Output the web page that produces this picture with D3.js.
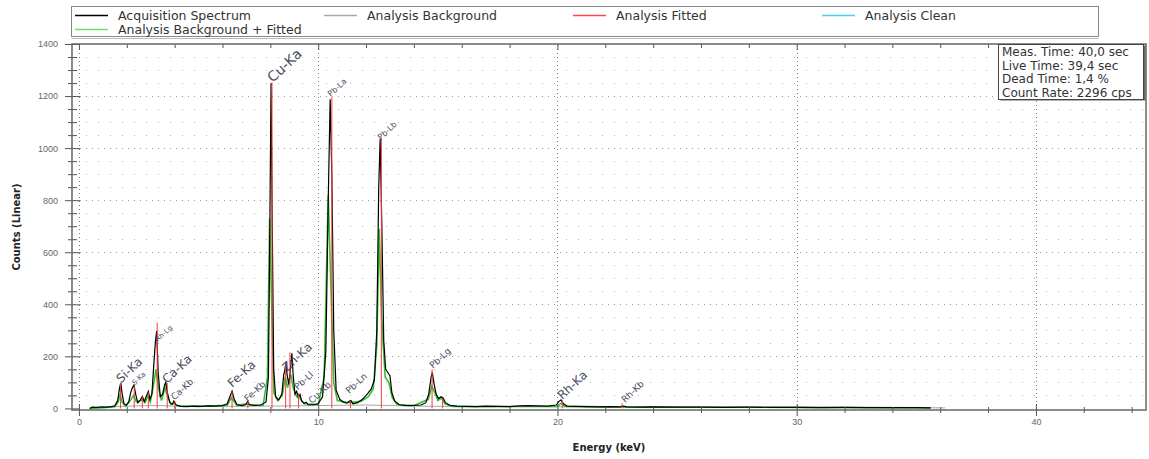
<!DOCTYPE html>
<html>
<head>
<meta charset="utf-8">
<script src="https://cdn.jsdelivr.net/npm/d3@7"></script>
<style>
  body { margin: 0; background: #fff; }
  svg { display: block; }
</style>
</head>
<body>
<svg id="chart"></svg>
<script>
// spectrum values: [energy keV, counts]
const acquisition = [
  [0.45,0],[0.55,5],[0.75,4],[0.95,6],[1.15,5],[1.35,7],[1.5,10],[1.62,30],[1.7,80],[1.75,98],[1.8,60],[1.88,18],[1.98,12],
  [2.08,25],[2.16,60],[2.23,78],[2.3,90],[2.37,55],[2.46,22],[2.56,32],[2.65,46],[2.73,25],[2.82,48],[2.9,65],[2.97,35],
  [3.05,55],[3.13,170],[3.2,260],[3.25,297],[3.31,140],[3.4,45],[3.5,55],[3.58,90],[3.63,100],[3.7,60],[3.8,22],[3.9,16],
  [3.97,28],[4.05,14],[4.25,8],[4.5,7],[4.8,9],[5.1,8],[5.4,10],[5.7,9],[6.0,11],[6.2,18],[6.32,48],[6.4,66],[6.48,38],
  [6.6,15],[6.8,11],[6.97,14],[7.05,27],[7.12,15],[7.35,12],[7.6,13],[7.82,25],[7.92,120],[7.97,600],[8.03,1250],[8.08,700],
  [8.14,150],[8.22,45],[8.35,32],[8.48,55],[8.56,130],[8.6,143],[8.65,178],[8.7,130],[8.77,92],[8.84,150],[8.9,212],[8.96,120],
  [9.03,55],[9.1,66],[9.17,42],[9.24,54],[9.31,28],[9.42,20],[9.5,24],[9.58,14],[9.8,14],[10.0,18],[10.18,45],[10.32,220],
  [10.42,800],[10.5,1188],[10.57,900],[10.65,300],[10.75,70],[10.9,35],[11.05,24],[11.2,20],[11.3,27],[11.37,30],[11.45,18],
  [11.65,22],[11.85,35],[12.05,55],[12.22,75],[12.35,110],[12.45,300],[12.53,850],[12.59,1035],[12.66,700],[12.74,260],
  [12.82,150],[12.9,140],[13.0,125],[13.08,60],[13.2,28],[13.4,14],[13.7,11],[14.0,12],[14.3,13],[14.5,22],[14.62,55],
  [14.72,120],[14.77,138],[14.84,95],[14.93,55],[15.03,38],[15.13,45],[15.22,40],[15.32,22],[15.5,12],[15.8,9],[16.2,8],
  [16.6,7],[17.0,9],[17.5,8],[18.0,7],[18.4,10],[18.8,11],[19.2,10],[19.6,9],[19.95,13],[20.05,26],[20.15,33],[20.25,18],
  [20.4,9],[20.8,8],[21.2,7],[21.7,6],[22.2,7],[22.6,6],[22.75,9],[22.9,6],[23.4,5],[24,6],[25,5],[26,5],[27,4],[28,5],
  [29,4],[30,4],[31,3],[32,4],[33,3],[34,3],[35,3],[35.6,2]
];

const background = [
  [0.45,0],[1,3],[1.6,7],[2.5,10],[3.3,11],[4,9],[5,8],[6,8],[7,8],[8,9],[9,10],[10,11],[11,12],[12,13],[13,11],
  [14,9],[15,8],[17,7],[19,7],[21,6],[25,5],[30,4],[35,3],[36.2,2]
];

const backgroundFitted = [
  [0.45,0],[1.0,3],[1.5,6],[1.64,25],[1.72,55],[1.8,25],[1.95,8],[2.15,30],[2.28,50],[2.4,25],[2.6,30],[2.68,38],[2.78,25],
  [2.88,48],[2.98,25],[3.1,80],[3.22,150],[3.32,80],[3.45,30],[3.6,80],[3.7,45],[3.85,15],[3.98,20],[4.1,10],[5,8],[6.2,12],
  [6.36,40],[6.46,30],[6.6,12],[7.0,18],[7.15,12],[7.7,12],[7.88,120],[7.97,730],[8.05,420],[8.15,60],[8.3,30],[8.5,50],
  [8.62,120],[8.72,80],[8.86,130],[8.95,80],[9.1,45],[9.25,38],[9.4,18],[10.0,15],[10.25,120],[10.42,820],[10.52,500],
  [10.65,100],[10.8,30],[11.3,22],[11.8,28],[12.1,45],[12.3,75],[12.45,240],[12.55,690],[12.65,350],[12.8,120],[12.95,100],
  [13.1,40],[13.3,15],[14.0,10],[14.6,35],[14.75,85],[14.88,60],[15.0,30],[15.15,40],[15.3,18],[15.6,8],[17,7],[20,8],
  [20.15,20],[20.3,8],[23,5],[30,4],[35.6,2]
];

// fitted element lines: [energy keV, counts]
const fittedLines = [
  [1.74,98],[2.31,85],[2.65,46],[2.9,62],[3.27,330],[3.69,98],[4.01,26],[6.40,64],[7.06,26],[8.07,1252],[8.64,175],
  [8.82,215],[9.18,58],[10.57,1195],[11.35,28],[12.64,1040],[14.76,150],[15.2,40],[20.2,30],[22.7,20]
];

// peak labels: [text, energy keV, counts]
const peakLabels = [
  ['Si-Ka',1.76,96],['S-Ka',2.33,88],['Rh-Lg',3.3,255],['Ca-Ka',3.68,94],['Ca-Kb',3.99,30],['Fe-Ka',6.41,78],
  ['Fe-Kb',7.06,25],['Cu-Ka',8.1,1250],['Zn-Ka',8.7,140],['Pb-Ll',9.15,70],['Cu-Kb',9.74,17],['Pb-La',10.53,1196],
  ['Pb-Ln',11.3,55],['Pb-Lb',12.62,1030],['Pb-Lg',14.8,152],['Rh-Ka',20.2,32],['Rh-Kb',22.82,21]
];
const labelSize = {
  'Si-Ka':12,'S-Ka':7,'Rh-Lg':7,'Ca-Ka':12,'Ca-Kb':9,'Fe-Ka':12,'Fe-Kb':9,'Cu-Ka':14,'Zn-Ka':12,'Pb-Ll':9,
  'Cu-Kb':9,'Pb-La':8,'Pb-Ln':9,'Pb-Lb':8,'Pb-Lg':9,'Rh-Ka':12,'Rh-Kb':9
};

const legendNames = ['Acquisition Spectrum','Analysis Background','Analysis Fitted','Analysis Clean','Analysis Background + Fitted'];
const legendColors = ['#000','#a8a8a8','#ff4848','#4fd0f0','#6ee06e'];
const infoLines = ['Meas. Time: 40,0 sec','Live Time: 39,4 sec','Dead Time: 1,4 %','Count Rate: 2296 cps'];
const xTicks = [0,10,20,30,40];
const yTicks = [0,200,400,600,800,1000,1200,1400];

const W = 1149, H = 459;
const svg = d3.select('#chart').attr('width', W).attr('height', H)
  .style('font-family', '"DejaVu Sans", sans-serif');

const x = d3.scaleLinear().domain([-0.29, 44.6]).range([72, 1146]);
const y = d3.scaleLinear().domain([-6.1, 1400]).range([410, 44]);

// grid
const grid = svg.append('g');
const minorY = d3.range(50, 1400, 50).filter(v => v % 200 !== 0);
grid.selectAll('.gm').data(minorY).join('line')
  .attr('x1', 74).attr('x2', 1145)
  .attr('y1', d => Math.round(y(d)) + 0.5).attr('y2', d => Math.round(y(d)) + 0.5)
  .attr('stroke', '#bbb').attr('stroke-dasharray', '1,11');
grid.selectAll('.gM').data(yTicks.filter(v => v > 0 && v < 1400)).join('line')
  .attr('x1', 74).attr('x2', 1145)
  .attr('y1', d => Math.round(y(d)) + 0.5).attr('y2', d => Math.round(y(d)) + 0.5)
  .attr('stroke', '#999').attr('stroke-dasharray', '1,5');
grid.selectAll('.gv').data(xTicks).join('line')
  .attr('y1', 45).attr('y2', 409)
  .attr('x1', d => Math.round(x(d)) + 0.5).attr('x2', d => Math.round(x(d)) + 0.5)
  .attr('stroke', '#777').attr('stroke-dasharray', '1,3');

// series
const line = d3.line().x(d => x(d[0])).y(d => y(d[1]));
const series = svg.append('g').attr('fill', 'none');
series.append('path').datum(background).attr('d', line).attr('stroke', '#a8a8a8').attr('stroke-width', 1);
series.append('path').datum(backgroundFitted).attr('d', line).attr('stroke', '#33c233').attr('stroke-width', 1.6);
series.append('path').datum(acquisition).attr('d', line).attr('stroke', '#000').attr('stroke-width', 1.2);
series.selectAll('.fit').data(fittedLines).join('line')
  .attr('x1', d => x(d[0])).attr('x2', d => x(d[0]))
  .attr('y1', y(0)).attr('y2', d => y(d[1]))
  .attr('stroke', '#ff3a3a').attr('stroke-width', 1);

// axes
const axisStyle = g => {
  g.select('.domain').remove();
  g.selectAll('line').attr('stroke', '#555');
  g.selectAll('text').attr('fill', '#666').style('font-family', '"Liberation Sans", Arial, sans-serif').style('font-size', '9px');
};
const minorX = d3.range(2, 45, 2).filter(v => v % 10 !== 0);

svg.append('g').attr('transform', 'translate(72,0)')
  .call(d3.axisLeft(y).tickValues(yTicks).tickSize(7).tickPadding(7).tickFormat(d3.format('d'))).call(axisStyle);
svg.append('g').attr('transform', 'translate(72,0)')
  .call(d3.axisRight(y).tickValues(yTicks).tickSize(8).tickFormat('')).call(axisStyle);
svg.append('g').attr('transform', 'translate(72,0)')
  .call(d3.axisLeft(y).tickValues(minorY).tickSize(4).tickFormat('')).call(axisStyle);
svg.append('g').attr('transform', 'translate(72,0)')
  .call(d3.axisRight(y).tickValues(minorY).tickSize(5).tickFormat('')).call(axisStyle);

svg.append('g').attr('transform', 'translate(0,410)')
  .call(d3.axisBottom(x).tickValues(xTicks).tickSize(6).tickPadding(3)).call(axisStyle);
svg.append('g').attr('transform', 'translate(0,410)')
  .call(d3.axisTop(x).tickValues(xTicks).tickSize(6).tickFormat('')).call(axisStyle);
svg.append('g').attr('transform', 'translate(0,410)')
  .call(d3.axisBottom(x).tickValues(minorX).tickSize(3).tickFormat('')).call(axisStyle);
svg.append('g').attr('transform', 'translate(0,410)')
  .call(d3.axisTop(x).tickValues(minorX).tickSize(3).tickFormat('')).call(axisStyle);
svg.append('g').attr('transform', 'translate(0,44)')
  .call(d3.axisBottom(x).tickValues(xTicks).tickSize(6).tickFormat('')).call(axisStyle);
svg.append('g').attr('transform', 'translate(0,44)')
  .call(d3.axisBottom(x).tickValues(minorX).tickSize(4).tickFormat('')).call(axisStyle);

// frame
svg.append('rect').attr('x', 72).attr('y', 44).attr('width', 1074).attr('height', 366)
  .attr('fill', 'none').attr('stroke', '#666').attr('stroke-width', 1.5);

// axis titles
svg.append('text').attr('x', 609).attr('y', 451).attr('text-anchor', 'middle')
  .style('font-size', '10px').style('font-weight', 'bold').attr('fill', '#222').text('Energy (keV)');
svg.append('text').attr('transform', 'translate(20,227) rotate(-90)').attr('text-anchor', 'middle')
  .style('font-size', '10px').style('font-weight', 'bold').attr('fill', '#222').text('Counts (Linear)');

// peak labels
svg.append('g').selectAll('text').data(peakLabels).join('text')
  .attr('transform', d => `translate(${x(d[1])},${y(d[2])}) rotate(-43)`)
  .style('font-size', d => labelSize[d[0]] + 'px')
  .attr('fill', '#4a4d60')
  .text(d => d[0]);

// legend
const legend = svg.append('g');
legend.append('rect').attr('x', 71.5).attr('y', 6.5).attr('width', 1027).attr('height', 30)
  .attr('fill', '#fff').attr('stroke', '#888');
legend.append('line').attr('x1', 71.5).attr('x2', 1098.5).attr('y1', 38.5).attr('y2', 38.5).attr('stroke', '#bbb');
const items = legend.selectAll('.item').data(legendNames).join('g')
  .attr('transform', (d, i) => i < 4 ? `translate(${75 + i * 249},15)` : 'translate(75,29)');
items.append('line').attr('x1', 0).attr('x2', 33).attr('y1', 0.5).attr('y2', 0.5)
  .attr('stroke', (d, i) => legendColors[i]).attr('stroke-width', 1.5);
items.append('text').attr('x', 43).attr('y', 4.5).style('font-size', '12.5px').attr('fill', '#333').text(d => d);

// info box
const info = svg.append('g');
info.append('rect').attr('x', 1000.5).attr('y', 45.5).attr('width', 145).attr('height', 55).attr('fill', '#666');
info.append('rect').attr('x', 998.5).attr('y', 44.5).attr('width', 145).attr('height', 55)
  .attr('fill', '#fff').attr('stroke', '#444');
info.selectAll('text').data(infoLines).join('text')
  .attr('x', 1002).attr('y', (d, i) => 56 + i * 13.5)
  .style('font-size', '12px').attr('fill', '#333').text(d => d);
</script>
</body>
</html>
